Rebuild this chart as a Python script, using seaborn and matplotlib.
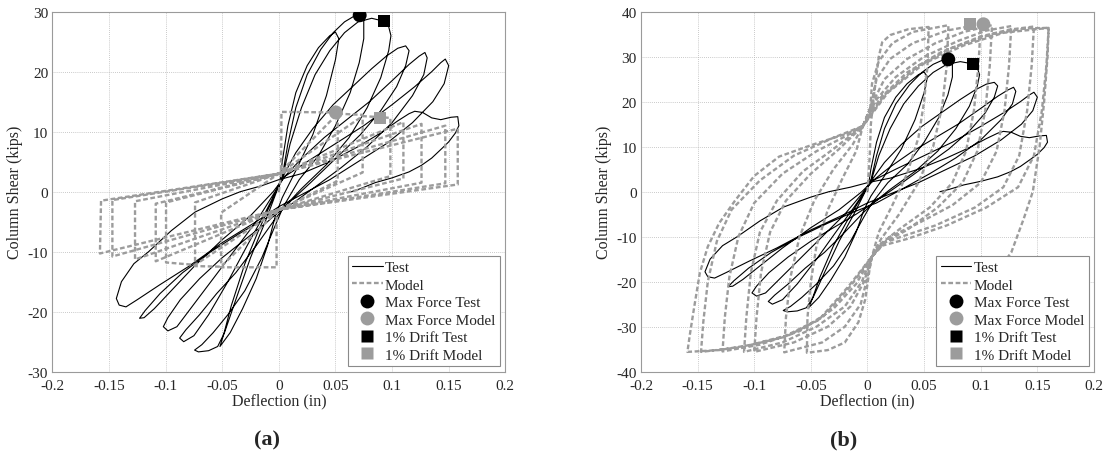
import matplotlib
matplotlib.use("Agg")
import matplotlib.pyplot as plt
from matplotlib.lines import Line2D
import pandas as pd
import seaborn as sns

# ---- values (deflection in, shear kips) ----

# test curve, identical in both panels, one list per cycle
test_c1 = [(0.000, 0.0), (0.003, 5.0), (0.008, 11.0), (0.015, 16.5), (0.025, 21.0), (0.035, 24.0),
           (0.045, 26.0), (0.050, 26.6), (0.053, 25.5), (0.050, 22.0), (0.042, 16.0), (0.030, 9.5),
           (0.015, 3.5), (0.003, -1.0), (-0.003, -4.0), (-0.010, -9.0), (-0.020, -14.5), (-0.032, -19.5),
           (-0.043, -23.5), (-0.050, -25.3), (-0.052, -25.8), (-0.049, -24.0), (-0.042, -19.0),
           (-0.030, -12.0), (-0.018, -6.5), (-0.006, -1.5), (0.003, 2.5)]
test_c2 = [(0.008, 8.0), (0.015, 14.0), (0.025, 19.5), (0.037, 23.7), (0.048, 26.5), (0.058, 28.3),
           (0.066, 29.2), (0.0714, 29.4), (0.075, 28.8), (0.075, 25.5), (0.071, 21.5), (0.063, 16.5),
           (0.050, 11.0), (0.035, 6.0), (0.018, 2.0), (0.004, -2.5), (-0.004, -6.0), (-0.015, -11.0),
           (-0.030, -16.5), (-0.045, -20.5), (-0.058, -23.5), (-0.068, -25.5), (-0.0744, -26.4),
           (-0.071, -26.7), (-0.062, -26.5), (-0.054, -25.8), (-0.048, -23.5), (-0.038, -18.0),
           (-0.025, -11.0), (-0.012, -5.0), (0.000, 1.0), (0.004, 3.0)]
test_c3 = [(0.010, 8.0), (0.020, 14.0), (0.032, 19.5), (0.045, 23.5), (0.058, 26.5), (0.070, 28.3),
           (0.082, 28.9), (0.093, 28.4), (0.097, 27.5), (0.099, 26.0), (0.097, 23.5), (0.090, 19.0),
           (0.078, 14.0), (0.062, 9.0), (0.042, 4.5), (0.020, 0.5), (0.005, -2.5), (-0.005, -5.0),
           (-0.020, -9.0), (-0.038, -13.5), (-0.055, -17.0), (-0.070, -20.5), (-0.082, -23.0),
           (-0.0876, -24.4), (-0.084, -25.0), (-0.075, -24.0), (-0.062, -20.5), (-0.045, -15.0),
           (-0.028, -9.0), (-0.012, -3.5), (0.000, 1.0), (0.005, 3.0)]
test_c4 = [(0.015, 6.5), (0.030, 10.5), (0.048, 14.5), (0.065, 17.5), (0.082, 20.5), (0.095, 22.6),
           (0.105, 23.9), (0.112, 24.3), (0.115, 23.5), (0.112, 21.0), (0.104, 17.5), (0.090, 13.5),
           (0.072, 9.5), (0.050, 5.5), (0.028, 1.5), (0.008, -2.0), (-0.010, -5.0), (-0.030, -8.0),
           (-0.050, -11.0), (-0.070, -14.5), (-0.087, -18.0), (-0.098, -21.0), (-0.102, -22.5),
           (-0.098, -23.2), (-0.090, -22.5), (-0.078, -19.5), (-0.060, -15.0), (-0.040, -10.0),
           (-0.020, -5.0), (-0.005, -0.5), (0.005, 2.5)]
test_c5 = [(0.020, 5.5), (0.040, 9.0), (0.060, 12.0), (0.080, 15.0), (0.100, 18.5), (0.115, 21.2),
           (0.124, 22.6), (0.129, 23.2), (0.131, 22.3), (0.128, 19.5), (0.118, 16.0), (0.100, 11.5),
           (0.078, 7.5), (0.055, 4.0), (0.030, 0.5), (0.008, -2.5), (-0.012, -4.5), (-0.035, -7.0),
           (-0.060, -10.0), (-0.085, -13.5), (-0.105, -17.0), (-0.118, -19.8), (-0.123, -21.1),
           (-0.119, -21.0), (-0.110, -19.5), (-0.095, -16.5), (-0.075, -12.5), (-0.050, -8.0),
           (-0.025, -4.0), (-0.005, 0.0), (0.005, 2.5)]
test_c6 = [(0.025, 5.0), (0.050, 8.0), (0.075, 11.0), (0.100, 14.5), (0.120, 17.5), (0.135, 20.0),
           (0.143, 21.5), (0.147, 22.1), (0.150, 21.0), (0.146, 18.0), (0.136, 15.0), (0.118, 11.5),
           (0.095, 8.0), (0.070, 5.0), (0.045, 2.0), (0.020, -0.5), (0.000, -2.5), (-0.020, -5.0),
           (-0.050, -8.5), (-0.080, -12.5), (-0.105, -15.5), (-0.125, -18.0), (-0.135, -19.2),
           (-0.141, -18.9), (-0.1435, -17.8), (-0.139, -15.0), (-0.128, -12.0), (-0.115, -10.0),
           (-0.095, -6.5), (-0.074, -3.4), (-0.050, -1.2), (-0.034, 0.0), (-0.015, 1.0), (0.000, 2.0)]
test_c7 = [(0.020, 3.0), (0.045, 5.0), (0.070, 7.5), (0.090, 9.8), (0.105, 11.8), (0.115, 13.0),
           (0.120, 13.4), (0.127, 13.2), (0.135, 12.3), (0.143, 12.0), (0.152, 12.4), (0.158, 12.5),
           (0.159, 11.0), (0.156, 9.8), (0.150, 8.3), (0.144, 7.2), (0.135, 5.6), (0.126, 4.4),
           (0.115, 3.3), (0.100, 2.3), (0.085, 1.5), (0.072, 0.5), (0.064, 0.0)]

# model, panel (a)
model_a_c1 = [(0.000, 0.0), (0.002, 3.0), (0.0023, 13.3), (0.052, 13.2), (0.052, 1.8), (0.000, -3.0),
              (-0.002, -3.5), (-0.002, -12.6), (-0.051, -12.6), (-0.051, -3.5), (0.000, 3.0)]
model_a_c2 = [(0.052, 13.0), (0.074, 12.8), (0.074, 3.2), (0.000, -3.0), (-0.051, -12.5),
              (-0.074, -12.4), (-0.074, -1.8), (0.000, 3.0)]
model_a_c3 = [(0.074, 12.6), (0.0985, 12.3), (0.0985, 2.6), (0.000, -3.0), (-0.074, -12.2),
              (-0.0996, -11.8), (-0.0996, -1.8), (0.000, 3.0)]
model_a_c4 = [(0.110, 11.6), (0.110, 2.2), (0.000, -3.0), (-0.1087, -11.6), (-0.1087, -2.0), (0.000, 3.0)]
model_a_c5 = [(0.126, 11.3), (0.126, 1.5), (0.000, -3.0), (-0.127, -11.3), (-0.127, -1.6), (0.000, 3.0)]
model_a_c6 = [(0.147, 11.0), (0.147, 1.4), (0.000, -3.0), (-0.147, -10.8), (-0.147, -1.4), (0.000, 3.0)]
model_a_c7 = [(0.158, 10.5), (0.158, 1.2), (0.000, -3.0), (-0.158, -10.3), (-0.157, -1.5), (0.000, 3.0)]

# model, panel (b)
model_b_c1 = [(0.000, 0.0), (0.002, 8.0), (0.003, 15.0), (0.005, 20.0), (0.008, 26.0), (0.010, 30.0),
              (0.013, 33.2), (0.020, 34.8), (0.036, 36.1), (0.054, 36.6),
              (0.053, 28.0), (0.050, 20.0), (0.045, 12.0), (0.035, 4.0), (0.022, -3.0), (0.010, -9.0),
              (0.004, -14.4), (0.002, -17.0), (-0.002, -24.0), (-0.008, -29.0), (-0.020, -33.5),
              (-0.035, -35.2), (-0.0535, -35.8),
              (-0.053, -28.0), (-0.050, -20.0), (-0.045, -12.0), (-0.035, -4.0), (-0.022, 3.0),
              (-0.010, 9.0), (-0.004, 14.6)]
model_b_c2 = [(0.002, 17.0), (0.004, 24.0), (0.010, 29.0), (0.022, 33.0), (0.040, 35.5), (0.0715, 37.0),
              (0.070, 28.0), (0.066, 19.0), (0.058, 10.0), (0.045, 2.0), (0.028, -5.0), (0.012, -10.5),
              (0.004, -14.4), (0.000, -19.0), (-0.006, -25.0), (-0.020, -30.0), (-0.040, -33.5),
              (-0.0735, -35.7),
              (-0.072, -28.0), (-0.068, -19.0), (-0.060, -10.0), (-0.047, -2.0), (-0.030, 5.0),
              (-0.013, 10.5), (-0.004, 14.6)]
model_b_c3 = [(0.003, 19.0), (0.008, 25.0), (0.020, 29.5), (0.040, 33.0), (0.070, 35.8), (0.100, 37.2),
              (0.098, 28.0), (0.094, 18.0), (0.087, 9.0), (0.075, 2.0), (0.055, -3.5), (0.030, -8.0),
              (0.012, -11.5), (0.004, -14.4), (-0.003, -20.0), (-0.015, -25.5), (-0.035, -30.0),
              (-0.065, -33.5), (-0.100, -35.6),
              (-0.098, -28.0), (-0.094, -18.0), (-0.086, -9.0), (-0.072, -2.0), (-0.050, 4.0),
              (-0.025, 9.5), (-0.004, 14.6)]
model_b_c4 = [(0.005, 20.0), (0.015, 25.0), (0.035, 29.5), (0.060, 33.0), (0.085, 35.5), (0.110, 37.0),
              (0.108, 28.0), (0.104, 18.0), (0.097, 9.0), (0.084, 2.0), (0.062, -3.5), (0.035, -8.5),
              (0.013, -11.5), (0.004, -14.4), (-0.005, -20.0), (-0.020, -25.5), (-0.045, -30.0),
              (-0.075, -33.5), (-0.109, -35.6),
              (-0.107, -28.0), (-0.103, -18.0), (-0.095, -9.0), (-0.080, -2.0), (-0.057, 4.5),
              (-0.030, 9.5), (-0.004, 14.6)]
model_b_c5 = [(0.008, 20.5), (0.025, 25.5), (0.050, 30.0), (0.080, 33.5), (0.105, 35.8), (0.127, 36.8),
              (0.125, 28.0), (0.121, 18.0), (0.114, 9.0), (0.100, 2.0), (0.075, -3.0), (0.045, -7.0),
              (0.020, -10.0), (0.004, -14.4), (-0.010, -20.5), (-0.030, -26.0), (-0.060, -31.0),
              (-0.095, -34.0), (-0.128, -35.5),
              (-0.126, -28.0), (-0.122, -19.0), (-0.114, -10.0), (-0.100, -2.5), (-0.075, 4.0),
              (-0.045, 9.0), (-0.018, 12.5), (-0.004, 14.6)]
model_b_c6 = [(0.012, 21.0), (0.035, 26.5), (0.065, 31.0), (0.100, 34.5), (0.125, 36.0), (0.147, 36.7),
              (0.145, 28.0), (0.141, 18.0), (0.134, 8.0), (0.120, 1.0), (0.095, -3.5), (0.060, -7.5),
              (0.030, -10.0), (0.013, -11.5), (0.004, -14.4), (-0.015, -21.0), (-0.040, -28.0),
              (-0.072, -32.0), (-0.110, -34.5), (-0.147, -35.6),
              (-0.145, -29.0), (-0.141, -20.0), (-0.133, -11.0), (-0.120, -4.0), (-0.095, 2.5),
              (-0.065, 8.0), (-0.030, 12.0), (-0.004, 14.6)]
model_b_c7 = [(0.015, 21.5), (0.045, 28.0), (0.075, 32.0), (0.110, 35.0), (0.140, 36.3), (0.160, 36.4),
              (0.158, 28.0), (0.154, 18.0), (0.147, 8.0), (0.133, 1.0), (0.105, -3.5), (0.070, -7.5),
              (0.035, -10.5), (0.013, -12.0), (0.004, -14.4), (-0.017, -21.1), (-0.043, -28.5),
              (-0.072, -32.2), (-0.102, -34.0), (-0.131, -35.2), (-0.159, -35.6),
              (-0.157, -32.0), (-0.153, -25.6), (-0.148, -18.0), (-0.141, -12.2), (-0.131, -7.0),
              (-0.117, -2.0), (-0.100, 3.5), (-0.078, 7.8), (-0.049, 10.4), (-0.017, 13.0),
              (-0.004, 14.6)]
model_b_end = [(0.018, 22.0), (0.050, 28.5), (0.085, 32.5), (0.120, 35.3), (0.160, 36.4),
               (0.159, 30.0), (0.156, 20.0), (0.152, 10.0), (0.146, 0.0), (0.138, -6.0),
               (0.127, -13.5), (0.108, -20.0), (0.085, -24.0)]

# marker points
maxf_test = (0.0714, 29.4)
drift_test = (0.093, 28.4)
maxf_model_a = (0.0504, 13.2)
drift_model_a = (0.089, 12.2)
maxf_model_b = (0.1024, 37.2)
drift_model_b = (0.0906, 37.2)

xticks = [-0.2, -0.15, -0.1, -0.05, 0, 0.05, 0.1, 0.15, 0.2]
xtick_labels = ["-0.2", "-0.15", "-0.1", "-0.05", "0", "0.05", "0.1", "0.15", "0.2"]
yticks_a = [-30, -20, -10, 0, 10, 20, 30]
yticks_b = [-40, -30, -20, -10, 0, 10, 20, 30, 40]
legend_labels = ["Test", "Model", "Max Force Test", "Max Force Model", "1% Drift Test", "1% Drift Model"]

GREY = "#9c9c9c"
test_cycles = [test_c1, test_c2, test_c3, test_c4, test_c5, test_c6, test_c7]
model_a = [model_a_c1, model_a_c2, model_a_c3, model_a_c4, model_a_c5, model_a_c6, model_a_c7]
model_b = [model_b_c1, model_b_c2, model_b_c3, model_b_c4, model_b_c5, model_b_c6, model_b_c7, model_b_end]

sns.set_style("white")
plt.rcParams['font.family'] = ['Liberation Serif', 'DejaVu Serif']
plt.rcParams['axes.unicode_minus'] = False


def to_frame(cycles):
    pts = [p for c in cycles for p in c]
    return pd.DataFrame(pts, columns=["defl", "shear"])


def draw_panel(ax, model_cycles, maxf_model, drift_model, yticks):
    test = to_frame(test_cycles)
    model = to_frame(model_cycles)
    sns.lineplot(data=test, x="defl", y="shear", sort=False, estimator=None,
                 color="black", lw=0.8, ax=ax)
    sns.lineplot(data=model, x="defl", y="shear", sort=False, estimator=None,
                 color=GREY, lw=1.7, ax=ax)
    ax.lines[-1].set_dashes([2.0, 1.1])

    sns.scatterplot(x=[maxf_test[0]], y=[maxf_test[1]], marker="o", s=100, color="black",
                    edgecolor="none", ax=ax, zorder=5)
    sns.scatterplot(x=[drift_model[0]], y=[drift_model[1]], marker="s", s=75, color=GREY,
                    edgecolor="none", ax=ax, zorder=5)
    sns.scatterplot(x=[maxf_model[0]], y=[maxf_model[1]], marker="o", s=100, color=GREY,
                    edgecolor="none", ax=ax, zorder=5)
    sns.scatterplot(x=[drift_test[0]], y=[drift_test[1]], marker="s", s=75, color="black",
                    edgecolor="none", ax=ax, zorder=5)

    ax.set_xlim(-0.2, 0.2)
    ax.set_ylim(yticks[0], yticks[-1])
    ax.set_xticks(xticks)
    ax.set_xticklabels(xtick_labels)
    ax.set_yticks(yticks)
    ax.set_yticklabels([str(v) for v in yticks])
    ax.tick_params(direction="in", length=3, color="#888888", labelsize=11)
    ax.tick_params(axis="x", pad=5)
    ax.tick_params(axis="y", pad=3)
    ax.grid(True, linestyle=(0, (1, 1.5)), color="#b8b8b8", lw=0.6)
    for s in ax.spines.values():
        s.set_color("#9a9a9a")
        s.set_linewidth(0.8)
    ax.set_xlabel("Deflection (in)", fontsize=11.5)
    ax.set_ylabel("Column Shear (kips)", fontsize=11.5)
    ax.xaxis.set_label_coords(0.5, -0.058)
    ax.yaxis.set_label_coords(-0.064, 0.5)

    handles = [
        Line2D([], [], color="black", lw=0.8),
        Line2D([], [], color=GREY, lw=1.7, dashes=[2.0, 1.1]),
        Line2D([], [], ls="none", marker="o", ms=10, color="black", mec="none"),
        Line2D([], [], ls="none", marker="o", ms=10, color=GREY, mec="none"),
        Line2D([], [], ls="none", marker="s", ms=8.5, color="black", mec="none"),
        Line2D([], [], ls="none", marker="s", ms=8.5, color=GREY, mec="none"),
    ]
    leg = ax.legend(handles, legend_labels, loc="lower right", fontsize=11, frameon=True,
                    fancybox=False, edgecolor="#8a8a8a", framealpha=1, borderaxespad=0.35,
                    labelspacing=0.25, handlelength=2.0, handletextpad=0.15, borderpad=0.3)
    leg.get_frame().set_linewidth(0.8)


fig = plt.figure(figsize=(11.14, 4.56), dpi=100)
ax_a = fig.add_axes([0.047, 0.1827, 0.4066, 0.7895])
ax_b = fig.add_axes([0.5754, 0.1827, 0.4066, 0.7895])

draw_panel(ax_a, model_a, maxf_model_a, drift_model_a, yticks_a)
draw_panel(ax_b, model_b, maxf_model_b, drift_model_b, yticks_b)

fig.text(0.24, 0.035, "(a)", fontsize=16, fontweight="bold", ha="center", va="center")
fig.text(0.757, 0.035, "(b)", fontsize=16, fontweight="bold", ha="center", va="center")

fig.savefig("out.png", dpi=100)
